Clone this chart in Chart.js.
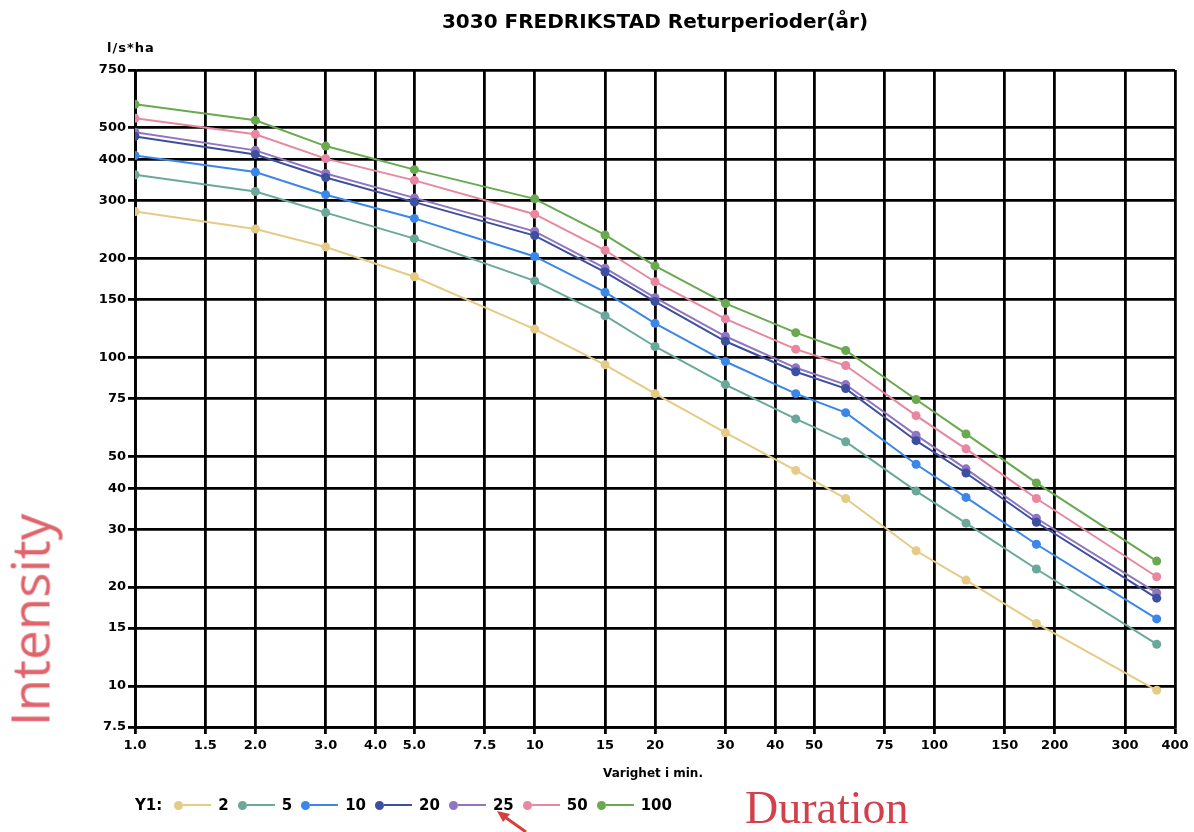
<!DOCTYPE html>
<html>
<head>
<meta charset="utf-8">
<script src="https://cdn.jsdelivr.net/npm/chart.js@4"></script>
<style>
  body { margin: 0; background: #fff; }
  #wrap { position: relative; width: 1194px; height: 832px; font-family: "DejaVu Sans", sans-serif; }
  #chart { position: absolute; left: 0; top: 0; }
  .abs { position: absolute; white-space: nowrap; }
  #tittel { left: 0; width: 1310px; top: 9px; text-align: center; font-weight: bold; font-size: 20px; }
  #enhet { left: 107px; top: 40px; font-weight: bold; font-size: 13px; letter-spacing: 1px; }
  #xtittel { left: 0; width: 1306px; top: 766px; text-align: center; font-weight: bold; font-size: 12px; }
  #legende { left: 135px; top: 796px; display: flex; align-items: center; font-weight: bold; font-size: 15px; }
  #legende .item { display: flex; align-items: center; margin-right: 9px; }
  #legende .dot { width: 9px; height: 9px; border-radius: 50%; }
  #legende .strek { width: 28px; height: 2px; margin-right: 7px; }
  #duration { left: 745px; top: 781px; font-family: "Liberation Serif", serif; font-size: 46px; color: #d2404c; }
  #intensity { left: 29px; top: 620px; font-family: "Open Sans", sans-serif; font-size: 53px; color: #e0646b;
               transform: translate(-50%, -50%) rotate(-90deg); }
</style>
</head>
<body>
<div id="wrap">
  <canvas id="chart" width="1194" height="832"></canvas>
  <div class="abs" id="tittel">3030 FREDRIKSTAD Returperioder(år)</div>
  <div class="abs" id="enhet">l/s*ha</div>
  <div class="abs" id="xtittel">Varighet i min.</div>
  <div class="abs" id="legende"><span style="margin-right:12px">Y1:</span></div>
  <div class="abs" id="duration">Duration</div>
  <div class="abs" id="intensity">Intensity</div>
  <svg class="abs" style="left:480px;top:805px" width="60" height="27">
    <line x1="46" y1="27" x2="22" y2="10" stroke="#d9403a" stroke-width="3"/>
    <polygon points="17,6 30,9 23,17" fill="#d9403a"/>
  </svg>
</div>
<script>
// varighet (min) ---------------------------------
var varighet = [1, 2, 3, 5, 10, 15, 20, 30, 45, 60, 90, 120, 180, 360];

// intensitet (l/s*ha) per returperiode -----------
var y2   = [278, 246, 217, 176, 122, 95, 77.6, 59, 45.3, 37.2, 25.8, 21, 15.5, 9.7];
var y5   = [360, 320, 276, 230, 171, 134, 108, 82.7, 65, 55.4, 39.2, 31.3, 22.7, 13.4];
var y10  = [412, 367, 313, 265, 203, 158, 127, 97.2, 77.6, 67.9, 47.3, 37.5, 27, 16];
var y20  = [471, 415, 353, 297, 235, 182, 148, 112, 90.5, 80.4, 55.8, 44.5, 31.5, 18.5];
var y25  = [485, 427, 363, 306, 242, 187, 152, 116, 93, 82.7, 58, 45.8, 32.4, 19.2];
var y50  = [535, 478, 403, 346, 273, 212, 170, 131, 106, 94.5, 66.5, 52.7, 37.2, 21.5];
var y100 = [590, 527, 440, 373, 304, 236, 190, 146, 119, 105, 74.5, 58.5, 41.5, 24];

var returperioder = ["2", "5", "10", "20", "25", "50", "100"];
var farger = ["#e5cb86", "#6aa99a", "#3a87e9", "#3d4f9f", "#8f75c2", "#e8879f", "#69a94f"];
var serier = [y2, y5, y10, y20, y25, y50, y100];

// akser -------------------------------------------
var xTicks = [1, 1.5, 2, 3, 4, 5, 7.5, 10, 15, 20, 30, 40, 50, 75, 100, 150, 200, 300, 400];
var xTickTekst = ["1.0", "1.5", "2.0", "3.0", "4.0", "5.0", "7.5", "10", "15", "20", "30", "40", "50", "75", "100", "150", "200", "300", "400"];
var yTicks = [7.5, 10, 15, 20, 30, 40, 50, 75, 100, 150, 200, 300, 400, 500, 750];
var yTickTekst = ["7.5", "10", "15", "20", "30", "40", "50", "75", "100", "150", "200", "300", "400", "500", "750"];

var datasett = serier.map(function (s, i) {
  return {
    label: returperioder[i],
    data: s.map(function (v, j) { return { x: varighet[j], y: v }; }),
    borderColor: farger[i],
    backgroundColor: farger[i],
    pointBackgroundColor: farger[i],
    pointBorderWidth: 0,
    pointRadius: 4.5,
    borderWidth: 2,
    tension: 0
  };
});

var tickFont = { family: "DejaVu Sans", weight: "bold", size: 13 };
var gitter = { color: "#000", lineWidth: 2.8, tickLength: 7, tickWidth: 2.8, tickColor: "#000" };

new Chart(document.getElementById("chart"), {
  type: "line",
  data: { datasets: datasett },
  options: {
    responsive: false,
    animation: false,
    devicePixelRatio: 1,
    layout: { padding: { left: 0, top: 70, right: 19, bottom: 75 } },
    plugins: { legend: { display: false }, tooltip: { enabled: false } },
    scales: {
      x: {
        type: "logarithmic",
        min: 1, max: 400,
        grid: gitter,
        border: { display: true, color: "#000", width: 2.8 },
        afterBuildTicks: function (scale) { scale.ticks = xTicks.map(function (v) { return { value: v }; }); },
        afterFit: function (scale) { scale.height = 30; },
        ticks: {
          autoSkip: false, maxRotation: 0, padding: 4, color: "#000", font: tickFont,
          callback: function (v, i) { return xTickTekst[i]; }
        }
      },
      y: {
        type: "logarithmic",
        min: 7.5, max: 750,
        grid: gitter,
        border: { display: true, color: "#000", width: 2.8 },
        afterBuildTicks: function (scale) { scale.ticks = yTicks.map(function (v) { return { value: v }; }); },
        afterFit: function (scale) { scale.width = 135; },
        ticks: {
          autoSkip: false, padding: 2, color: "#000", font: tickFont,
          callback: function (v, i) { return yTickTekst[i]; }
        }
      }
    }
  }
});

// legende ----------------------------------------
var legende = document.getElementById("legende");
returperioder.forEach(function (r, i) {
  var item = document.createElement("span");
  item.className = "item";
  item.innerHTML = '<span class="dot" style="background:' + farger[i] + '"></span>' +
    '<span class="strek" style="background:' + farger[i] + '"></span>' + r;
  legende.appendChild(item);
});
</script>
</body>
</html>
